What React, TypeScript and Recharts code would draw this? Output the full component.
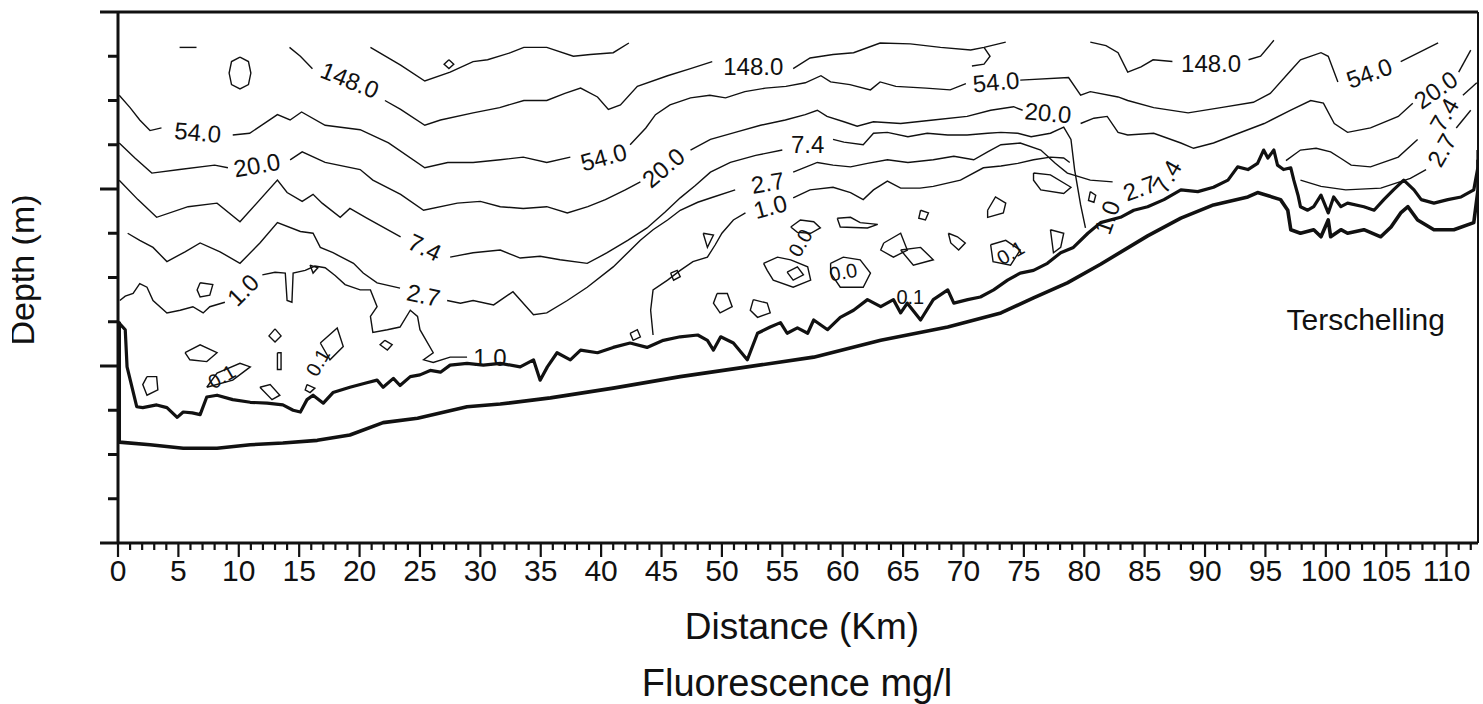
import React from 'react';
import { ComposedChart, Line, Scatter, XAxis, YAxis } from 'recharts';

type Pt = [number, number];

// distance (km) / depth (m) readings for every contour piece
const topLine: Pt[][] = [
  [[5.1, 2.0], [6.5, 2.0]],
  [[10.1, 2.55], [10.8, 2.8], [11.0, 3.45], [10.8, 4.1], [10.1, 4.35], [9.4, 4.1], [9.2, 3.45], [9.4, 2.8], [10.1, 2.55]],
  [[20.9, 2.0], [23.4, 3.0], [25.4, 3.9], [27.5, 3.4], [29.4, 2.8], [30.6, 2.7], [32.5, 2.3], [33.6, 2.0], [35.5, 2.0], [37.7, 2.5], [39.1, 2.4], [41.0, 2.3], [42.3, 1.75]],
  [[27.4, 2.7], [27.8, 2.95], [27.4, 3.2], [27.0, 2.95], [27.4, 2.7]],
];

const c148: Pt[][] = [
  [[14.2, 2.0], [15.1, 2.5], [16.1, 3.2]],
  [[22.1, 5.0], [23.4, 5.5], [25.4, 6.4], [26.7, 6.1], [29.4, 5.7], [31.6, 5.4], [33.6, 5.0], [35.5, 5.0], [37.0, 4.6], [38.3, 4.3], [39.7, 4.8], [40.6, 5.5], [41.6, 5.25], [43.0, 4.2], [45.5, 3.6], [47.4, 3.2], [49.2, 2.8]],
  [[55.9, 3.2], [57.3, 2.6], [59.2, 2.4], [60.9, 2.3], [63.1, 1.75], [65.6, 1.8], [68.1, 2.0], [70.6, 2.15], [71.7, 2.0], [73.5, 1.7]],
  [[71.7, 2.0], [72.2, 2.5], [71.7, 2.95], [70.7, 3.05]],
  [[80.5, 1.7], [81.8, 1.9], [82.8, 2.3], [83.6, 3.4], [84.7, 3.1], [85.7, 2.7], [87.3, 2.8]],
  [[93.6, 2.7], [94.6, 2.5], [95.7, 1.6]],
];

const c54: Pt[][] = [
  [[0.1, 4.7], [1.0, 5.4], [1.8, 6.1], [2.65, 6.7], [3.6, 6.55]],
  [[9.5, 6.95], [10.9, 6.85], [13.2, 5.8], [14.25, 6.1], [15.2, 5.65], [17.15, 6.4], [20.05, 6.65], [22.4, 7.4], [25.4, 8.8], [27.3, 8.5], [29.4, 8.5], [31.65, 8.35], [33.55, 8.2], [35.5, 8.5], [37.45, 8.2]],
  [[42.4, 7.5], [43.7, 6.55], [44.5, 5.8], [45.7, 5.25], [47.4, 4.85], [49.0, 4.7], [50.3, 4.85], [51.9, 4.5], [53.6, 4.3], [55.3, 4.2], [56.9, 4.0], [58.2, 3.6], [59.0, 3.95], [60.6, 4.1], [62.3, 4.4], [63.1, 3.95], [64.4, 4.2], [66.9, 4.3], [68.9, 4.4], [70.2, 4.05]],
  [[74.7, 3.85], [78.7, 3.7], [79.7, 4.7], [80.5, 4.5], [82.8, 4.8], [83.6, 5.0], [85.75, 5.4], [88.6, 5.7], [91.3, 5.4], [94.0, 5.1], [95.4, 4.6], [97.1, 3.3], [97.9, 2.7], [99.6, 2.3], [100.2, 2.5], [101.0, 3.95]],
  [[106.2, 2.8], [109.3, 1.75]],
];

const c20: Pt[][] = [
  [[0.1, 7.4], [1.4, 8.25], [2.8, 9.1], [5.1, 8.9], [8.0, 8.65], [9.1, 8.8]],
  [[14.25, 8.35], [15.25, 7.9], [17.15, 8.5], [20.05, 8.9], [21.1, 9.5], [23.4, 10.3], [25.3, 11.2], [28.1, 10.8], [30.0, 10.7], [31.65, 11.0], [33.55, 11.1], [35.5, 11.0], [37.2, 11.35], [38.9, 11.0], [40.35, 10.6], [42.0, 10.05], [43.25, 9.6]],
  [[47.4, 7.8], [49.05, 7.2], [51.1, 6.8], [53.2, 6.4], [55.25, 6.1], [56.9, 5.8], [57.9, 5.55], [58.7, 5.9], [60.1, 6.2], [61.2, 6.45], [62.55, 6.2], [64.8, 6.3], [67.5, 6.1], [70.3, 5.9], [72.25, 5.55], [74.15, 5.35], [74.9, 5.55]],
  [[79.7, 6.3], [80.8, 6.0], [81.9, 5.9], [82.8, 6.8], [83.6, 6.95], [85.75, 6.85], [88.0, 7.4], [89.05, 7.7], [90.7, 7.4], [92.4, 6.95], [94.9, 6.3], [97.1, 5.55], [98.75, 5.0], [99.8, 5.15], [100.7, 6.3], [101.8, 6.8], [103.7, 6.55], [106.0, 5.9], [107.2, 5.15]],
  [[111.0, 3.4], [112.0, 2.15]],
];

const c7_4: Pt[][] = [
  [[0.1, 9.5], [1.65, 10.6], [3.2, 11.6], [5.8, 11.0], [8.2, 10.8], [10.1, 11.85], [13.2, 9.5], [14.0, 10.2], [15.25, 10.7], [16.15, 10.3], [16.9, 10.8], [18.4, 11.6], [19.2, 11.1], [20.6, 11.65], [23.4, 12.7]],
  [[27.5, 13.85], [29.4, 13.6], [31.65, 13.45], [33.3, 13.9], [34.95, 13.8], [36.6, 14.0], [38.85, 14.2], [40.5, 13.6], [42.2, 12.9], [43.8, 12.2], [45.3, 11.3], [46.55, 10.5], [47.8, 9.8], [49.05, 9.05], [50.7, 8.5], [52.8, 8.1], [55.0, 7.8]],
  [[59.2, 7.2], [60.1, 7.35], [61.7, 7.5], [62.55, 6.85], [63.7, 6.8], [65.4, 7.05], [67.0, 6.85], [68.7, 6.95], [70.3, 6.95], [72.0, 6.85], [73.1, 6.8], [74.5, 6.85], [75.6, 7.05], [77.2, 6.85], [78.3, 6.5], [78.9, 7.2], [79.2, 8.9], [79.7, 10.9], [80.1, 12.2]],
  [[96.7, 8.4], [97.9, 7.8], [99.2, 7.7], [100.4, 7.9], [101.2, 8.25], [102.1, 8.65], [103.7, 8.75], [106.0, 8.2], [107.6, 7.2]],
  [[111.35, 4.7], [112.5, 4.0]],
];

const c2_7: Pt[][] = [
  [[0.8, 12.5], [1.8, 12.9], [2.9, 13.3], [4.05, 14.1], [5.55, 13.55], [6.8, 13.05], [8.45, 13.55], [10.1, 14.2], [11.75, 13.05], [13.2, 11.9], [15.1, 12.4], [16.15, 12.5], [16.75, 13.3], [17.8, 13.6], [19.5, 14.2], [20.3, 14.75], [21.45, 15.3], [23.35, 15.6]],
  [[27.25, 16.3], [28.35, 16.45], [29.4, 16.3], [31.1, 16.55], [32.7, 15.8], [34.4, 17.1], [35.5, 17.0], [37.2, 16.3], [38.85, 15.55], [41.0, 14.4], [42.2, 13.6], [43.25, 12.9], [44.3, 12.3], [45.5, 11.75], [46.55, 11.2], [48.0, 10.75], [49.3, 10.45], [51.1, 10.05]],
  [[55.9, 9.05], [57.9, 8.5], [59.2, 8.65], [60.65, 8.75], [62.05, 8.55], [63.7, 8.35], [65.4, 8.5], [67.5, 8.35], [69.2, 8.15], [70.85, 8.35], [72.0, 7.9], [73.1, 7.5], [74.7, 7.4], [76.4, 7.8], [77.6, 8.55], [78.6, 9.1], [80.5, 9.5], [82.35, 9.6]],
  [[97.9, 9.5], [99.6, 9.85], [101.65, 10.05], [104.55, 9.95], [107.0, 9.4], [108.3, 8.9]],
  [[110.8, 6.55], [112.0, 5.55]],
];

const c1_0: Pt[][] = [
  [[0.15, 16.3], [0.6, 16.05], [1.25, 15.9], [1.8, 15.35], [2.4, 15.55], [2.9, 16.3], [4.05, 17.0], [5.15, 16.85], [6.2, 16.65], [7.05, 17.0], [7.6, 16.65], [8.85, 16.4]],
  [[11.95, 14.85], [13.0, 14.7], [13.85, 14.75], [14.0, 16.3], [14.4, 16.4], [14.5, 14.75], [15.5, 14.6], [16.3, 14.35], [17.15, 14.45], [18.0, 14.9], [18.8, 15.4], [20.05, 15.7], [20.9, 15.7], [21.45, 16.65], [20.9, 17.2], [21.1, 18.1], [22.3, 17.95], [23.35, 17.8], [24.2, 16.85], [24.8, 17.2], [25.0, 17.95], [26.1, 19.25], [25.3, 19.65], [26.1, 19.8], [27.5, 19.5], [28.9, 19.5]],
  [[44.3, 18.25], [44.1, 16.85], [44.3, 15.7], [45.5, 15.15], [46.55, 14.6], [47.6, 14.1], [48.8, 13.85], [49.45, 13.15], [50.0, 12.5], [50.95, 11.75], [51.95, 11.35]],
  [[55.9, 10.5], [57.3, 10.05], [59.2, 9.9], [60.65, 10.2], [61.7, 10.6], [62.55, 10.05], [63.7, 9.55], [64.8, 9.95], [66.4, 9.95], [67.5, 9.85], [69.75, 9.5], [71.65, 8.8], [73.1, 8.7], [74.5, 8.55], [75.8, 8.35], [77.2, 8.2], [78.3, 8.25], [78.8, 8.5]],
];

// small closed 0.1 pockets
const pockets: Pt[][] = [
  [[6.8, 15.3], [7.85, 15.4], [7.6, 16.0], [6.8, 16.1], [6.55, 15.7], [6.8, 15.3]],
  [[5.55, 19.25], [6.8, 18.8], [8.2, 19.25], [7.35, 19.75], [5.95, 19.65], [5.55, 19.25]],
  [[13.0, 17.9], [13.5, 18.3], [13.0, 18.65], [12.5, 18.3], [13.0, 17.9]],
  [[7.35, 21.2], [9.5, 20.8], [10.95, 20.05], [10.1, 19.85], [8.2, 20.4], [7.35, 21.2]],
  [[11.75, 21.2], [12.6, 21.05], [13.4, 21.65], [12.75, 21.9], [11.75, 21.2]],
  [[16.75, 18.7], [18.15, 17.85], [18.65, 18.9], [17.55, 19.65], [16.75, 18.7]],
  [[22.1, 18.55], [22.7, 18.8], [22.3, 19.1], [21.7, 18.8], [22.1, 18.55]],
  [[15.65, 21.05], [16.3, 21.25], [15.9, 21.5], [15.5, 21.35], [15.65, 21.05]],
  [[2.4, 20.6], [3.2, 20.6], [3.3, 21.35], [2.4, 21.65], [2.05, 21.05], [2.4, 20.6]],
  [[13.2, 19.25], [13.5, 19.25], [13.5, 20.2], [13.2, 20.2], [13.2, 19.25]],
  [[15.9, 14.3], [16.55, 14.45], [16.15, 14.75], [15.9, 14.3]],
  [[59.55, 11.65], [60.65, 11.6], [61.45, 11.9], [62.9, 12.0], [62.05, 12.2], [59.8, 12.15], [59.55, 11.65]],
  [[55.7, 12.15], [56.5, 11.75], [57.6, 11.85], [58.15, 12.2], [57.35, 12.5], [56.25, 12.45], [55.7, 12.15]],
  [[72.0, 11.2], [72.65, 10.45], [73.5, 10.8], [73.3, 11.35], [72.0, 11.6], [72.0, 11.2]],
  [[75.8, 9.1], [77.2, 9.2], [78.9, 9.9], [78.3, 10.25], [76.4, 10.05], [75.8, 9.5], [75.8, 9.1]],
  [[63.4, 13.05], [64.8, 12.5], [65.35, 13.45], [64.2, 13.85], [63.15, 13.45], [63.4, 13.05]],
  [[64.8, 13.45], [66.45, 13.3], [67.5, 14.0], [65.85, 14.3], [64.8, 13.45]],
  [[53.45, 14.2], [54.6, 13.85], [55.7, 14.0], [57.1, 14.4], [57.35, 15.15], [55.9, 15.55], [54.25, 15.15], [53.75, 14.6], [53.45, 14.2]],
  [[55.4, 14.7], [56.25, 14.4], [56.75, 14.85], [55.9, 15.15], [55.4, 14.7]],
  [[59.0, 14.2], [60.05, 13.85], [61.45, 14.0], [62.3, 14.75], [61.7, 15.55], [59.8, 15.55], [59.0, 14.75], [59.0, 14.2]],
  [[66.45, 11.2], [67.1, 11.35], [66.85, 11.75], [66.3, 11.65], [66.45, 11.2]],
  [[68.75, 12.5], [69.5, 12.7], [70.15, 13.05], [69.6, 13.45], [68.95, 13.05], [68.75, 12.5]],
  [[49.6, 15.9], [50.45, 15.9], [50.85, 16.65], [49.85, 17.0], [49.3, 16.45], [49.6, 15.9]],
  [[52.6, 16.25], [53.75, 16.45], [54.0, 17.0], [52.95, 17.25], [52.35, 16.85], [52.6, 16.25]],
  [[48.45, 12.5], [49.3, 12.6], [48.8, 13.3], [48.45, 12.5]],
  [[42.4, 18.15], [43.0, 17.95], [43.25, 18.35], [42.65, 18.55], [42.4, 18.15]],
  [[45.75, 14.75], [46.3, 14.6], [46.55, 14.95], [46.0, 15.15], [45.75, 14.75]],
  [[77.2, 12.3], [78.3, 12.5], [78.05, 13.3], [77.45, 13.6], [77.2, 12.3]],
  [[72.25, 13.15], [73.5, 12.9], [74.7, 13.45], [73.9, 14.3], [72.45, 14.1], [72.25, 13.15]],
  [[80.5, 10.15], [80.95, 10.35], [80.8, 10.75], [80.35, 10.65], [80.5, 10.15]],
];

// bold lower edge of the sampled section
const sampleEdge: Pt[] = [
  [0, 17.5], [0.6, 17.95], [0.75, 20.05], [1.55, 22.3], [2.05, 22.35], [3.2, 22.2], [4.05, 22.35], [4.9, 22.9], [5.4, 22.6], [6.15, 22.65], [6.8, 22.75], [7.35, 21.75], [8.2, 21.65], [9.5, 21.9], [10.95, 22.05], [12.35, 22.1], [13.65, 22.2], [14.5, 22.5], [15.1, 22.6], [15.65, 21.9], [16.15, 21.65], [17.0, 22.1], [17.8, 21.5], [19.2, 21.2], [20.6, 20.95], [21.45, 20.8], [21.95, 21.2], [22.8, 20.7], [23.35, 21.1], [24.2, 20.6], [25.0, 20.5], [25.85, 20.25], [26.7, 20.35], [27.5, 19.95], [28.9, 19.85], [30.25, 19.95], [31.65, 19.85], [33.3, 20.05], [34.4, 19.65], [34.95, 20.8], [35.55, 20.05], [36.35, 19.25], [37.45, 19.65], [38.3, 19.1], [39.7, 19.25], [41.0, 18.95], [42.4, 18.7], [43.8, 18.95], [45.15, 18.55], [46.55, 18.35], [48.0, 18.25], [48.8, 18.55], [49.3, 19.1], [49.9, 18.35], [50.95, 18.7], [52.1, 19.65], [52.95, 18.15], [54.0, 17.8], [54.85, 17.55], [55.4, 18.15], [56.25, 17.85], [57.1, 18.15], [57.6, 17.4], [58.75, 17.95], [59.8, 17.25], [60.9, 16.85], [62.05, 16.25], [63.15, 16.65], [64.2, 16.25], [64.8, 17.0], [65.35, 16.45], [66.45, 17.4], [67.5, 16.25], [68.7, 15.7], [69.2, 16.45], [70.35, 16.25], [71.4, 16.1], [72.5, 15.7], [73.65, 15.15], [74.7, 14.75], [75.8, 14.6], [76.95, 14.2], [78.05, 13.6], [79.1, 13.3], [80.3, 12.5], [81.35, 11.9], [83.0, 11.6], [84.1, 11.2], [85.25, 11.0], [86.6, 10.6], [88.0, 10.05], [89.4, 10.15], [90.7, 9.9], [91.9, 9.5], [92.7, 8.75], [93.55, 8.9], [94.35, 8.55], [94.85, 7.8], [95.2, 8.25], [95.7, 7.8], [96.0, 8.65], [96.5, 8.9], [97.1, 8.8], [97.35, 9.5], [97.7, 10.35], [97.9, 11.0], [98.5, 11.2], [99.0, 11.0], [99.6, 10.35], [100.2, 11.35], [100.65, 10.45], [101.25, 11.0], [101.8, 10.8], [103.15, 11.0], [104.0, 11.2], [104.8, 10.6], [105.6, 10.05], [106.45, 9.5], [107.3, 10.05], [107.9, 10.6], [108.95, 10.8], [110.1, 10.6], [111.2, 10.45], [112.25, 10.05], [112.6, 8.75], [112.6, 7.8],
];

const seabed: Pt[] = [
  [0.1, 17.5], [0.1, 24.3], [2.65, 24.45], [5.4, 24.65], [8.2, 24.65], [10.95, 24.45], [13.65, 24.35], [16.5, 24.2], [19.2, 23.9], [21.95, 23.2], [24.8, 22.95], [28.9, 22.3], [31.65, 22.15], [35.8, 21.8], [41.0, 21.25], [46.55, 20.6], [52.1, 20.05], [57.6, 19.5], [63.15, 18.55], [68.7, 17.8], [73.1, 17.0], [75.8, 16.15], [78.6, 15.3], [81.35, 14.25], [85.25, 12.65], [88.0, 11.65], [90.7, 10.9], [93.55, 10.45], [94.35, 10.2], [96.25, 10.6], [96.85, 11.2], [97.1, 12.3], [97.9, 12.5], [99.0, 12.3], [99.6, 12.7], [100.2, 11.75], [100.4, 12.7], [101.25, 12.3], [101.8, 12.5], [103.15, 12.3], [104.55, 12.7], [105.4, 12.15], [106.2, 11.35], [106.8, 11.0], [107.6, 11.75], [108.95, 12.3], [110.6, 12.3], [112.25, 11.9], [112.6, 10.05], [112.6, 8.35],
];

// contour labels: [km, depth, text, angle]
const contourLabels: [number, number, string, number][] = [
  [19.2, 3.85, '148.0', 22], [52.6, 3.1, '148.0', 0], [90.5, 2.9, '148.0', 0],
  [6.6, 6.8, '54.0', 5], [40.2, 8.2, '54.0', -15], [72.7, 3.95, '54.0', -5], [103.6, 3.45, '54.0', -20],
  [11.5, 8.65, '20.0', -10], [45.15, 8.8, '20.0', -40], [77.0, 5.7, '20.0', 5], [109.1, 4.4, '20.0', -35],
  [25.4, 13.3, '7.4', 25], [57.1, 7.5, '7.4', 0], [86.85, 9.3, '7.4', -60], [109.8, 5.8, '7.4', -60],
  [25.3, 16.0, '2.7', 12], [53.8, 9.65, '2.7', -10], [84.6, 9.95, '2.7', -20], [109.6, 7.8, '2.7', -60],
  [10.35, 15.7, '1.0', -45], [30.8, 19.5, '1.0', 0], [54.0, 11.0, '1.0', -15], [81.9, 11.6, '1.0', -70],
];

const pocketLabels: [number, number, string, number][] = [
  [8.6, 20.6, '0.1', -30], [16.55, 19.8, '0.1', -60], [56.5, 13.05, '0.0', -60],
  [60.05, 14.7, '0.0', -10], [65.6, 16.1, '0.1', 0], [73.9, 13.6, '0.1', -30],
];

const placeNames: [number, number, string][] = [[103.3, 17.97, 'Terschelling']];

const xTicks = Array.from({ length: 113 }, (_, i) => i);
const yTicks = [0, 2.5, 5, 7.5, 10, 12.5, 15, 17.5, 20, 22.5, 25, 27.5, 30];

const FONT = '"Liberation Sans", Arial, sans-serif';
const INK = '#111';

const rows = (seg: Pt[]) => seg.map(([x, y]) => ({ x, y }));

const XTick = (props: any) => {
  const { x, y, payload } = props;
  const v = payload.value;
  const major = v % 5 === 0;
  return (
    <g>
      <line x1={x} x2={x} y1={y} y2={y + (major ? 14 : 7)} stroke={INK} strokeWidth={2.2} />
      {major && v <= 110 && (
        <text x={x} y={y + 38} textAnchor="middle" fontSize={30} fontFamily={FONT} fill={INK}>{v}</text>
      )}
    </g>
  );
};

const YTick = (props: any) => {
  const { x, y, payload } = props;
  const major = payload.value % 10 === 0;
  return <line x1={x - (major ? 18 : 10)} x2={x} y1={y} y2={y} stroke={INK} strokeWidth={3} />;
};

const LabelShape = (props: any) => {
  const { cx, cy, payload } = props;
  return (
    <text
      x={cx} y={cy} textAnchor="middle" dominantBaseline="central"
      fontSize={payload.size} fontFamily={FONT} fill={INK}
      transform={`rotate(${payload.angle} ${cx} ${cy})`}
    >
      {payload.text}
    </text>
  );
};

const PlaceShape = (props: any) => {
  const { cx, cy, payload } = props;
  return <text x={cx} y={cy} textAnchor="middle" fontSize={30} fontFamily={FONT} fill={INK}>{payload.text}</text>;
};

export default function App() {
  const thin = [...topLine, ...c148, ...c54, ...c20, ...c7_4, ...c2_7, ...c1_0, ...pockets];
  const labelRows = [
    ...contourLabels.map(([x, y, text, angle]) => ({ x, y, text, angle, size: 24 })),
    ...pocketLabels.map(([x, y, text, angle]) => ({ x, y, text, angle, size: 20 })),
  ];
  const placeRows = placeNames.map(([x, y, text]) => ({ x, y, text }));

  return (
    <div style={{ position: 'absolute', left: 0, top: 0, width: 1483, height: 704, background: '#fff' }}>
      <ComposedChart width={1483} height={704} margin={{ top: 11, right: 4, bottom: 121, left: 88 }}>
        <XAxis
          dataKey="x" type="number" domain={[0, 112.6]} allowDataOverflow ticks={xTicks} interval={0}
          height={40} tickSize={0} tickMargin={0} tickLine={false} tick={<XTick />}
          axisLine={{ stroke: INK, strokeWidth: 3 }}
        />
        <XAxis
          xAxisId="top" orientation="top" type="number" domain={[0, 112.6]} height={1}
          tick={false} tickLine={false} axisLine={{ stroke: INK, strokeWidth: 3 }}
        />
        <YAxis
          dataKey="y" type="number" domain={[0, 30]} reversed allowDataOverflow ticks={yTicks} interval={0}
          width={30} tickSize={0} tickMargin={0} tickLine={false} tick={<YTick />}
          axisLine={{ stroke: INK, strokeWidth: 3 }}
        />
        <YAxis
          yAxisId="right" orientation="right" type="number" domain={[0, 30]} reversed width={1}
          tick={false} tickLine={false} axisLine={{ stroke: INK, strokeWidth: 2 }}
        />
        {thin.map((seg, i) => (
          <Line
            key={`t${i}`} data={rows(seg)} dataKey="y" type="linear" dot={false} activeDot={false}
            stroke={INK} strokeWidth={1.4} isAnimationActive={false} legendType="none"
          />
        ))}
        <Line data={rows(sampleEdge)} dataKey="y" type="linear" dot={false} activeDot={false} stroke={INK} strokeWidth={3.2} strokeLinejoin="round" isAnimationActive={false} />
        <Line data={rows(seabed)} dataKey="y" type="linear" dot={false} activeDot={false} stroke={INK} strokeWidth={3.6} strokeLinejoin="round" isAnimationActive={false} />
        <Scatter data={labelRows} dataKey="y" shape={<LabelShape />} isAnimationActive={false} />
        <Scatter data={placeRows} dataKey="y" shape={<PlaceShape />} isAnimationActive={false} />
      </ComposedChart>
      <svg width={1483} height={704} style={{ position: 'absolute', left: 0, top: 0, pointerEvents: 'none' }}>
        <defs>
          <clipPath id="depthClip"><rect x={12} y={0} width={60} height={704} /></clipPath>
        </defs>
        <g clipPath="url(#depthClip)">
          <text
            x={34} y={270} textAnchor="middle" fontSize={34} fontFamily={FONT} fill={INK}
            transform="rotate(-90 34 270)"
          >
            Depth (m)
          </text>
        </g>
        <text x={802} y={639} textAnchor="middle" fontSize={37} fontFamily={FONT} fill={INK}>Distance (Km)</text>
        <text x={797} y={696} textAnchor="middle" fontSize={38} fontFamily={FONT} fill={INK}>Fluorescence mg/l</text>
      </svg>
    </div>
  );
}
